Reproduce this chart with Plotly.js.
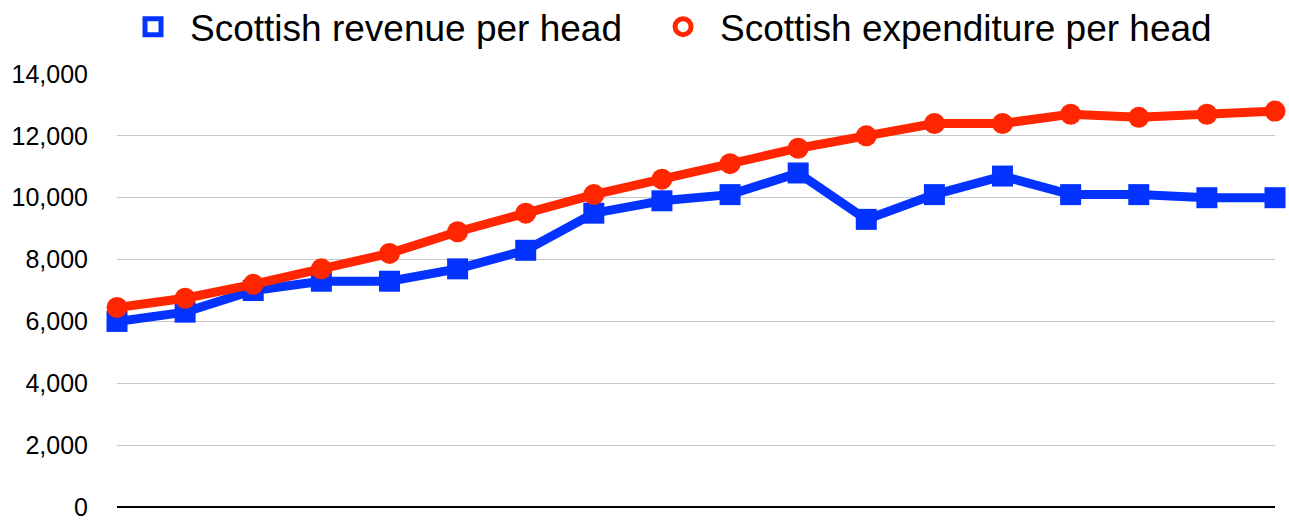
<!DOCTYPE html>
<html>
<head>
<meta charset="utf-8">
<script src="https://cdn.plot.ly/plotly-3.0.1.min.js"></script>
<style>html,body{margin:0;padding:0;background:#fff;}#chart{width:1289px;height:522px;}</style>
</head>
<body>
<div id="chart"></div>
<script>
const points = [0,1,2,3,4,5,6,7,8,9,10,11,12,13,14,15,16,17];
const revenueName = "Scottish revenue per head";
const expenditureName = "Scottish expenditure per head";
const revenue = [6000, 6300, 7000, 7300, 7300, 7700, 8300, 9500, 9900, 10100, 10800, 9300, 10100, 10700, 10100, 10100, 10000, 10000];
const expenditure = [6450, 6750, 7200, 7700, 8200, 8900, 9500, 10100, 10600, 11100, 11600, 12000, 12400, 12400, 12700, 12600, 12700, 12800];
const yTicks = [0, 2000, 4000, 6000, 8000, 10000, 12000, 14000];

const BLUE = '#0433ff';
const RED = '#ff2600';
const FONT = 'Helvetica, Arial, "Liberation Sans", sans-serif';

const traces = [
  {x: points, y: revenue, type: 'scatter', mode: 'lines+markers', showlegend: false, cliponaxis: false,
   line: {color: BLUE, width: 9}, marker: {symbol: 'square', size: 21, color: BLUE}},
  {x: points, y: expenditure, type: 'scatter', mode: 'lines+markers', showlegend: false, cliponaxis: false,
   line: {color: RED, width: 9}, marker: {symbol: 'circle', size: 21, color: RED}},
  {x: [null], y: [null], type: 'scatter', mode: 'markers', name: revenueName, legend: 'legend',
   marker: {symbol: 'square-open', size: 16, color: BLUE, line: {width: 5, color: BLUE}}},
  {x: [null], y: [null], type: 'scatter', mode: 'markers', name: expenditureName, legend: 'legend2',
   marker: {symbol: 'circle-open', size: 16, color: RED, line: {width: 5, color: RED}}}
];

const legendBase = {orientation: 'h', xref: 'container', xanchor: 'left', y: 0.948, yref: 'container', yanchor: 'middle',
  font: {size: 37, family: FONT, color: '#000'}, itemwidth: 64, bgcolor: 'rgba(0,0,0,0)'};

const layout = {
  width: 1289, height: 522,
  margin: {l: 117, r: 14, t: 74, b: 15},
  paper_bgcolor: '#fff', plot_bgcolor: '#fff',
  font: {family: FONT, color: '#000'},
  showlegend: true,
  legend: Object.assign({}, legendBase, {x: 0.0900}),
  legend2: Object.assign({}, legendBase, {x: 0.5012}),
  xaxis: {range: [0, 17], showticklabels: false, ticks: '', showgrid: false, zeroline: false,
          showline: false, fixedrange: true},
  yaxis: {range: [0, 14000], tickvals: yTicks, tickformat: ',', ticks: '', ticklabelstandoff: 28,
          ticklabeloverflow: 'allow',
          tickfont: {size: 25, family: FONT, color: '#000'},
          showgrid: true, gridcolor: '#c8c8c8', gridwidth: 1,
          zeroline: true, zerolinecolor: '#000', zerolinewidth: 2.5, showline: false, fixedrange: true}
};

Plotly.newPlot('chart', traces, layout, {displayModeBar: false, staticPlot: true});
</script>
</body>
</html>
